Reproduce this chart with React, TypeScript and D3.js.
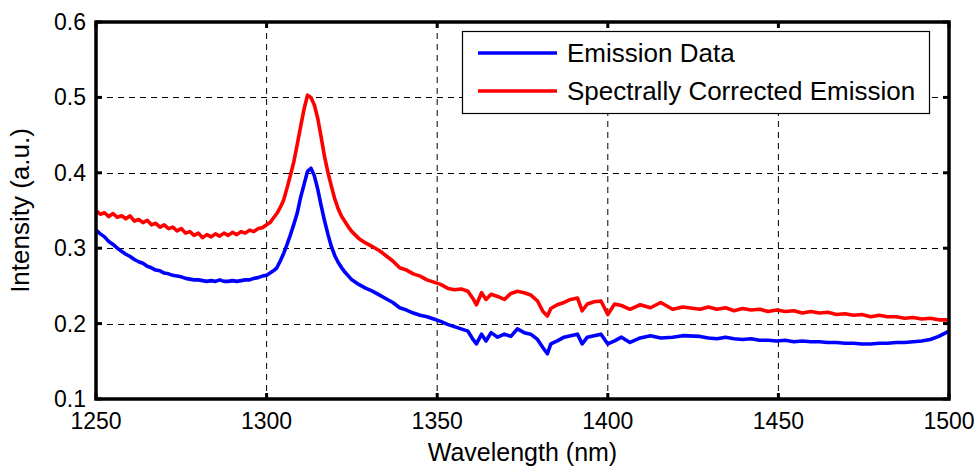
import React from "react";
import * as d3 from "d3";

const wavelengths = [
  1250, 1251.25, 1252.5, 1253.75, 1255, 1256.25, 1257.5, 1258.75, 1260, 1261.25, 1262.5, 1263.75, 1265, 1266.25, 1267.5, 1268.75, 1270, 1271.25, 1272.5, 1273.75,
  1275, 1276.25, 1277.5, 1278.75, 1280, 1281.25, 1282.5, 1283.75, 1285, 1286.25, 1287.5, 1288.75, 1290, 1291.25, 1292.5, 1293.75, 1295, 1296.25, 1297.5, 1298.75, 1300,
  1301, 1302, 1303, 1304, 1305, 1306, 1307, 1308, 1309, 1310, 1311, 1312, 1313, 1314, 1315, 1316, 1317, 1318, 1319, 1320, 1321, 1322, 1323, 1324, 1325,
  1327, 1329, 1331, 1333, 1335, 1337, 1339, 1341, 1343, 1345, 1347, 1349, 1351, 1353, 1355, 1357, 1359,
  1360.5, 1361.5, 1363, 1364.3, 1365.8, 1367.7, 1369.7, 1371.6, 1373.5, 1375.5, 1377.4, 1379.4, 1381, 1382.3, 1383.3, 1385.2, 1387.2, 1389.1, 1391.1, 1392.5, 1394, 1396, 1398, 1400,
  1402, 1404, 1406.5, 1409.5, 1412.5, 1415.5, 1419, 1422, 1427,
  1429.5, 1432, 1434.5, 1437, 1439.5, 1442, 1444.5, 1447, 1449.5, 1452, 1454.5, 1457, 1459.5, 1462, 1464.5, 1467, 1469.5, 1472, 1474.5, 1477, 1479.5, 1482, 1484.5, 1487, 1489.5, 1492, 1494.5, 1497, 1500,
];

const emissionData = [
  0.324, 0.319, 0.315, 0.309, 0.305, 0.3, 0.296, 0.292, 0.289, 0.285, 0.282, 0.28, 0.276, 0.274, 0.271, 0.27, 0.267, 0.266, 0.264, 0.263,
  0.262, 0.26, 0.259, 0.258, 0.258, 0.257, 0.256, 0.257, 0.256, 0.258, 0.256, 0.256, 0.257, 0.256, 0.257, 0.258, 0.258, 0.26, 0.261, 0.263, 0.264,
  0.267, 0.27, 0.274, 0.283, 0.293, 0.305, 0.318, 0.332, 0.347, 0.368, 0.385, 0.402, 0.406, 0.396, 0.378, 0.356, 0.336, 0.318, 0.302, 0.29, 0.281, 0.274, 0.268, 0.263, 0.258,
  0.252, 0.247, 0.243, 0.238, 0.233, 0.228, 0.221, 0.218, 0.214, 0.211, 0.209, 0.206, 0.203, 0.199, 0.196, 0.193, 0.19,
  0.179, 0.173, 0.186, 0.177, 0.188, 0.182, 0.186, 0.183, 0.193, 0.188, 0.186, 0.179, 0.168, 0.16, 0.173, 0.177, 0.182, 0.184, 0.186, 0.173, 0.182, 0.184, 0.186, 0.173,
  0.177, 0.182, 0.175, 0.181, 0.184, 0.181, 0.182, 0.184, 0.183,
  0.181, 0.18, 0.182, 0.18, 0.179, 0.18, 0.178, 0.178, 0.177, 0.178, 0.176, 0.177, 0.176, 0.176, 0.175, 0.175, 0.174, 0.174, 0.173, 0.173, 0.174, 0.174, 0.175, 0.175, 0.176, 0.177, 0.179, 0.183, 0.19,
];

const correctedEmission = [
  0.35, 0.345, 0.347, 0.342, 0.346, 0.341, 0.343, 0.339, 0.343, 0.336, 0.338, 0.334, 0.337, 0.331, 0.333, 0.328, 0.331, 0.326, 0.328, 0.323,
  0.326, 0.32, 0.322, 0.317, 0.32, 0.314, 0.318, 0.315, 0.319, 0.316, 0.32, 0.317, 0.321, 0.318, 0.322, 0.32, 0.324, 0.322, 0.326, 0.327, 0.331,
  0.334, 0.34, 0.346, 0.354, 0.364, 0.38, 0.397, 0.415, 0.438, 0.462, 0.485, 0.503, 0.5, 0.49, 0.472, 0.447, 0.421, 0.4, 0.382, 0.365, 0.352, 0.342, 0.335, 0.328, 0.322,
  0.313, 0.307, 0.302, 0.297, 0.29, 0.283, 0.274, 0.271, 0.266, 0.263, 0.258, 0.255, 0.252, 0.247, 0.245, 0.246, 0.243,
  0.233, 0.225, 0.241, 0.232, 0.239, 0.236, 0.232, 0.24, 0.243, 0.241, 0.238, 0.23, 0.216, 0.21, 0.22, 0.225, 0.228, 0.232, 0.234, 0.217, 0.226, 0.229, 0.23, 0.212,
  0.226, 0.224, 0.219, 0.225, 0.221, 0.228, 0.219, 0.222, 0.219,
  0.222, 0.219, 0.221, 0.217, 0.22, 0.218, 0.219, 0.216, 0.218, 0.216, 0.217, 0.214, 0.216, 0.214, 0.215, 0.212, 0.213, 0.211, 0.212, 0.209, 0.211, 0.209, 0.209, 0.207, 0.208, 0.206, 0.207, 0.205, 0.205,
];

const xTicks = [1250, 1300, 1350, 1400, 1450, 1500];
const yTicks = [0.1, 0.2, 0.3, 0.4, 0.5, 0.6];
const seriesNames = ["Emission Data", "Spectrally Corrected Emission"];
const seriesColors = ["#0000ff", "#ff0000"];

const W = 980;
const H = 470;
const L = 96, R = 949, T = 22, B = 399;
const FONT = "'Liberation Sans', Arial, Helvetica, sans-serif";

export default function App() {
  const x = d3.scaleLinear().domain([1250, 1500]).range([L, R]);
  const y = d3.scaleLinear().domain([0.1, 0.6]).range([B, T]);
  const line = d3
    .line<number>()
    .x((_, i) => x(wavelengths[i]))
    .y((v) => y(v));
  const series = [emissionData, correctedEmission];
  const tickLen = 6;

  return (
    <svg width={W} height={H} style={{ position: "absolute", left: 0, top: 0, background: "#fff" }} fontFamily={FONT}>
      <rect x={0} y={0} width={W} height={H} fill="#fff" />
      {xTicks.slice(1, -1).map((t) => (
        <line key={"gx" + t} x1={x(t)} x2={x(t)} y1={T} y2={B} stroke="#000" strokeWidth={1} strokeDasharray="6,5" />
      ))}
      {yTicks.slice(1, -1).map((t) => (
        <line key={"gy" + t} x1={L} x2={R} y1={Math.round(y(t)) + 0.5} y2={Math.round(y(t)) + 0.5} stroke="#000" strokeWidth={1} strokeDasharray="6,5" />
      ))}
      {series.map((s, i) => (
        <path key={"s" + i} d={line(s) || ""} fill="none" stroke={seriesColors[i]} strokeWidth={3.6} strokeLinejoin="round" />
      ))}
      {xTicks.map((t) => (
        <g key={"tx" + t}>
          <line x1={x(t)} x2={x(t)} y1={B} y2={B - tickLen} stroke="#000" strokeWidth={3} />
          <line x1={x(t)} x2={x(t)} y1={T} y2={T + tickLen} stroke="#000" strokeWidth={3} />
          <text x={x(t)} y={429} fontSize={23} textAnchor="middle" fill="#000">{t}</text>
        </g>
      ))}
      {yTicks.map((t) => (
        <g key={"ty" + t}>
          <line x1={L} x2={L + tickLen} y1={y(t)} y2={y(t)} stroke="#000" strokeWidth={3} />
          <line x1={R} x2={R - tickLen} y1={y(t)} y2={y(t)} stroke="#000" strokeWidth={3} />
          <text x={86} y={y(t) + 8} fontSize={23} textAnchor="end" fill="#000">{d3.format(".1f")(t)}</text>
        </g>
      ))}
      <rect x={L} y={T} width={R - L} height={B - T} fill="none" stroke="#000" strokeWidth={3.5} />
      <text x={(L + R) / 2} y={461} fontSize={25} textAnchor="middle" fill="#000">Wavelength (nm)</text>
      <text transform={`translate(29,${(T + B) / 2}) rotate(-90)`} fontSize={26} textAnchor="middle" fill="#000">Intensity (a.u.)</text>
      <rect x={462.5} y={31.5} width={467} height={82} fill="#fff" stroke="#000" strokeWidth={1.2} />
      {seriesNames.map((n, i) => (
        <g key={"lg" + i}>
          <line x1={478} x2={557} y1={53 + i * 38} y2={53 + i * 38} stroke={seriesColors[i]} strokeWidth={3.6} />
          <text x={567} y={62 + i * 38} fontSize={26} fill="#000">{n}</text>
        </g>
      ))}
    </svg>
  );
}
